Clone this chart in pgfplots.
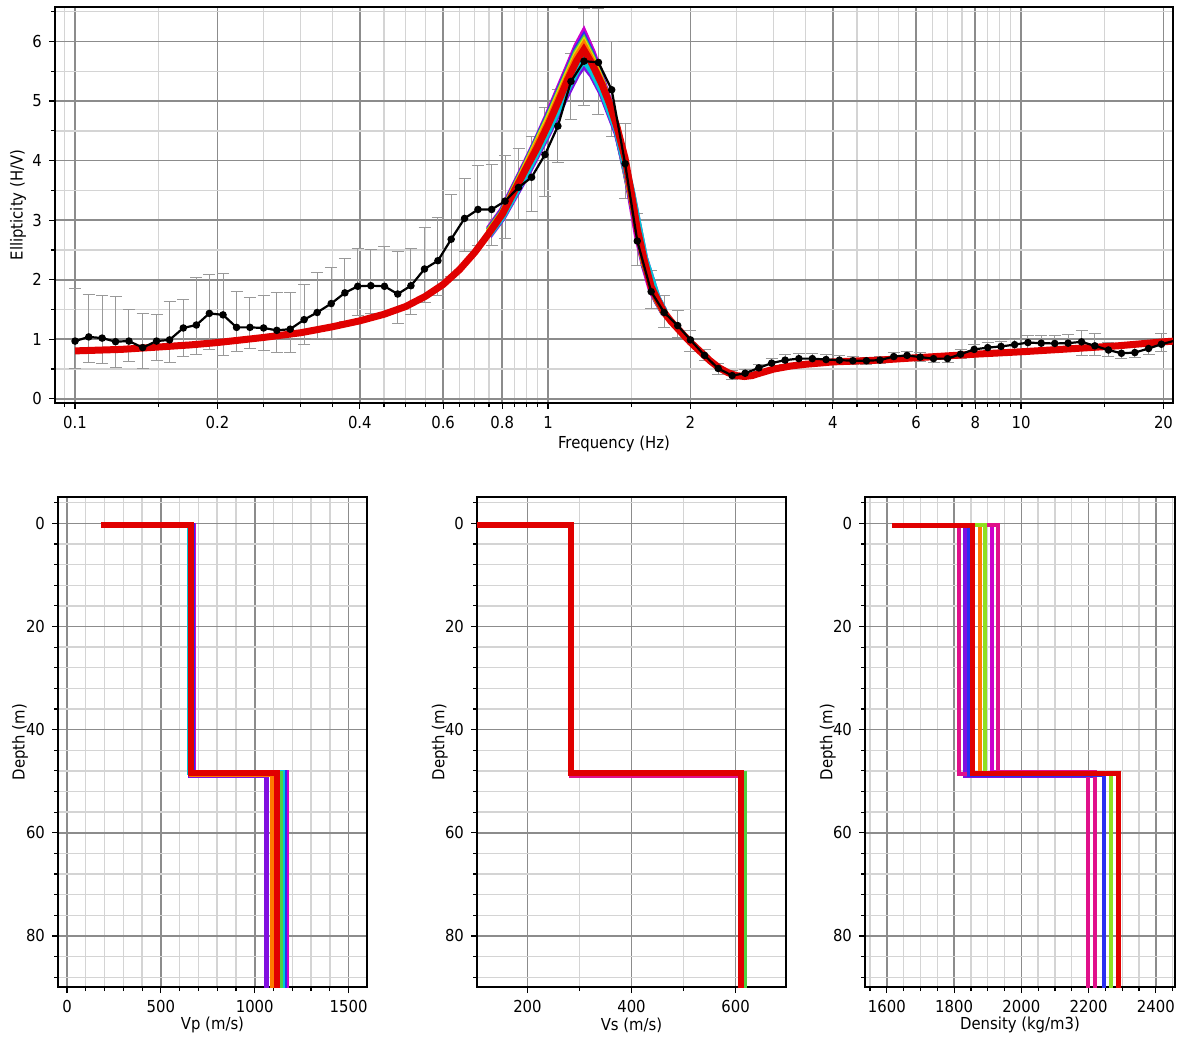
\documentclass[border=0pt]{standalone}
\usepackage{pgfplots}
\pgfplotsset{compat=1.18}
\usepackage{pgfplotstable}
\usepackage{fontspec}
\setmainfont{DejaVu Sans}[FakeStretch=0.9]

\definecolor{cmag}{HTML}{CC00CC}
\definecolor{cblue}{HTML}{2A30F0}
\definecolor{cgreen}{HTML}{50D040}
\definecolor{cyel}{HTML}{E8E000}
\definecolor{corange}{HTML}{FF7A00}
\definecolor{ccyan}{HTML}{00C8D8}
\definecolor{cviolet}{HTML}{8010E0}
\definecolor{cred}{HTML}{E00000}
\definecolor{cpink}{HTML}{E0108A}
\definecolor{cygreen}{HTML}{90E020}

\pgfplotstableread{
f v hi lo
0.1 0.97 1.85 0.51
0.1069 1.04 1.745 0.61
0.1141 1.02 1.73 0.60
0.1218 0.96 1.72 0.53
0.130 0.97 1.50 0.62
0.139 0.86 1.44 0.51
0.1487 0.97 1.41 0.65
0.1584 0.99 1.63 0.61
0.1694 1.19 1.66 0.71
0.1805 1.24 2.04 0.75
0.1923 1.435 2.08 0.83
0.2055 1.41 2.10 0.72
0.2195 1.20 1.80 0.80
0.2343 1.20 1.70 0.85
0.2504 1.19 1.73 0.82
0.267 1.15 1.79 0.77
0.285 1.17 1.79 0.77
0.305 1.33 1.92 0.91
0.325 1.45 2.12 1.01
0.348 1.60 2.20 1.01
0.372 1.78 2.36 1.30
0.396 1.89 2.53 1.40
0.422 1.90 2.50 1.44
0.451 1.89 2.55 1.45
0.481 1.76 2.48 1.27
0.513 1.90 2.53 1.41
0.548 2.18 2.88 1.62
0.585 2.32 3.04 1.73
0.624 2.68 3.43 2.06
0.666 3.03 3.70 2.48
0.711 3.18 3.91 2.58
0.760 3.18 3.93 2.58
0.811 3.32 4.09 2.70
0.866 3.55 4.20 3.00
0.923 3.72 4.40 3.15
0.985 4.10 4.90 3.39
1.049 4.58 5.20 3.97
1.118 5.33 5.80 4.69
1.191 5.67 6.55 4.92
1.278 5.65 6.55 4.78
1.363 5.19 6.00 4.40
1.455 3.95 4.62 3.37
1.544 2.65 3.11 2.24
1.652 1.80 2.16 1.51
1.76 1.45 1.73 1.20
1.88 1.23 1.48 1.03
2.0 0.99 1.14 0.80
2.142 0.73 0.83 0.64
2.289 0.51 0.60 0.41
2.45 0.39 0.47 0.33
2.61 0.43 0.50 0.37
2.79 0.52 0.58 0.46
2.97 0.60 0.68 0.51
3.17 0.65 0.75 0.57
3.39 0.675 0.76 0.60
3.62 0.675 0.76 0.60
3.87 0.66 0.75 0.58
4.13 0.65 0.72 0.59
4.41 0.64 0.71 0.58
4.71 0.64 0.70 0.58
5.03 0.65 0.71 0.59
5.38 0.71 0.78 0.64
5.74 0.73 0.80 0.66
6.12 0.70 0.77 0.63
6.53 0.675 0.74 0.61
6.99 0.675 0.74 0.61
7.45 0.75 0.83 0.68
7.96 0.83 0.92 0.75
8.5 0.86 0.95 0.77
9.07 0.88 0.97 0.79
9.69 0.91 1.00 0.82
10.34 0.945 1.06 0.84
11.03 0.935 1.06 0.83
11.78 0.93 1.06 0.82
12.57 0.935 1.08 0.81
13.42 0.957 1.14 0.73
14.32 0.89 1.09 0.72
15.3 0.82 0.95 0.71
16.3 0.765 0.86 0.68
17.4 0.777 0.88 0.69
18.6 0.845 0.97 0.75
19.8 0.917 1.09 0.79
}\expdata

\pgfplotsset{
  myax/.style={
    scale only axis, anchor=north west,
    axis line style={line width=1.2pt, black},
    tick align=outside, xtick pos=bottom, ytick pos=left,
    major tick length=3pt, minor tick length=2pt,
    tick style={black, line width=0.6pt},
    grid=both,
    major grid style={draw=black!45, line width=0.8pt},
    minor grid style={draw=black!17, line width=0.7pt},
    ticklabel style={font=\fontsize{8.25}{9}\selectfont},
    label style={font=\fontsize{8.25}{9}\selectfont},
    /pgf/number format/assume math mode=true,
    /pgf/number format/1000 sep={},
  },
  prof/.style={line width=2.3pt, mark=none},
  dens/.style={line width=2pt, mark=none},
}

\begin{document}
\begin{tikzpicture}[x=1pt,y=1pt]
\useasboundingbox (0,0) rectangle (591,-521.5);

% ---------------- Top: ellipticity ----------------
\begin{axis}[myax, at={(27.5pt,-3.5pt)}, width=559pt, height=198pt,
  xmode=log, xmin=0.0907, xmax=20.95, ymin=-0.07, ymax=6.58,
  xtick={0.1,0.2,0.4,0.6,0.8,1,2,4,6,8,10,20},
  xticklabels={0.1,0.2,0.4,0.6,0.8,1,2,4,6,8,10,20},
  minor xtick={0.095,0.15,0.25,0.3,0.35,0.45,0.5,0.55,0.65,0.7,0.75,0.85,0.9,0.95,1.5,2.5,3,3.5,4.5,5,5.5,6.5,7,7.5,8.5,9,9.5,15},
  ytick={0,1,2,3,4,5,6},
  minor ytick={0.5,1.5,2.5,3.5,4.5,5.5,6.5},
  xlabel={Frequency (Hz)}, ylabel={Ellipticity (H/V)},
  xlabel style={at={(axis description cs:0.5,-0.1035)}, anchor=center},
  ylabel style={at={(axis description cs:-0.0331,0.5)}, anchor=center},
]
% error bars
\addplot[black!40, line width=0.5pt, only marks, mark=*, mark size=0.1pt, forget plot,
  error bars/.cd, y dir=both, y explicit, error mark=-,
  error bar style={draw=black!40, line width=0.5pt},
  error mark options={draw=black!40, line width=0.5pt, mark size=3pt, rotate=90}]
  table[x=f, y=v, y error plus expr=\thisrow{hi}-\thisrow{v}, y error minus expr=\thisrow{v}-\thisrow{lo}] {\expdata};
% model curves near the peak
\addplot[cmag, line width=3.5pt] coordinates {(0.75,2.85)(0.8,3.16)(0.85,3.58)(0.9,3.98)(0.95,4.37)(1.0,4.77)(1.05,5.17)(1.1,5.55)(1.15,5.92)(1.19,6.14)(1.24,5.82)(1.3,5.36)(1.35,4.95)(1.4,4.48)(1.455,3.92)(1.5,3.33)(1.544,2.75)(1.6,2.22)(1.652,1.84)(1.7,1.64)(1.76,1.43)};
\addplot[cblue, line width=3.5pt] coordinates {(0.75,2.83)(0.8,3.14)(0.9,3.96)(1.0,4.74)(1.1,5.5)(1.15,5.86)(1.19,6.06)(1.24,5.76)(1.3,5.33)(1.4,4.5)(1.5,3.38)(1.6,2.24)(1.7,1.65)(1.76,1.44)};
\addplot[cgreen, line width=3.5pt] coordinates {(0.75,2.82)(0.8,3.12)(0.9,3.94)(1.0,4.71)(1.1,5.47)(1.15,5.82)(1.19,6.01)(1.24,5.72)(1.3,5.31)(1.4,4.52)(1.5,3.41)(1.6,2.26)(1.7,1.66)(1.76,1.44)};
\addplot[cyel, line width=3.5pt] coordinates {(0.75,2.8)(0.8,3.1)(0.9,3.92)(1.0,4.68)(1.1,5.44)(1.15,5.78)(1.19,5.97)(1.24,5.69)(1.3,5.3)(1.4,4.53)(1.5,3.43)(1.6,2.28)(1.7,1.67)(1.76,1.45)};
\addplot[corange, line width=3.5pt] coordinates {(0.75,2.79)(0.8,3.1)(0.9,3.9)(1.0,4.64)(1.1,5.4)(1.15,5.74)(1.19,5.93)(1.24,5.66)(1.3,5.29)(1.4,4.54)(1.5,3.44)(1.6,2.29)(1.7,1.67)(1.76,1.45)};
\addplot[cviolet, line width=3.5pt] coordinates {(0.75,2.74)(0.8,3.04)(0.9,3.76)(1.0,4.46)(1.1,5.15)(1.15,5.45)(1.19,5.62)(1.24,5.44)(1.3,5.13)(1.4,4.46)(1.5,3.48)(1.6,2.36)(1.7,1.7)(1.76,1.47)};
\addplot[ccyan, line width=3.5pt] coordinates {(0.75,2.76)(0.8,3.06)(0.9,3.8)(1.0,4.5)(1.1,5.22)(1.15,5.52)(1.19,5.7)(1.24,5.5)(1.3,5.18)(1.4,4.5)(1.5,3.5)(1.6,2.36)(1.7,1.7)(1.76,1.47)};
% main red model curve
\addplot[cred, line width=3.5pt] coordinates {
(0.1,0.805)(0.125,0.83)(0.15,0.87)(0.175,0.905)(0.2,0.945)(0.25,1.03)(0.3,1.11)(0.35,1.21)(0.4,1.31)(0.45,1.42)(0.5,1.55)(0.55,1.72)(0.6,1.92)(0.65,2.17)(0.7,2.46)(0.75,2.78)(0.8,3.1)(0.85,3.5)(0.9,3.88)(0.95,4.23)(1.0,4.6)(1.05,4.98)(1.1,5.36)(1.15,5.68)(1.19,5.86)(1.24,5.62)(1.3,5.28)(1.35,4.95)(1.4,4.55)(1.455,4.04)(1.5,3.45)(1.544,2.85)(1.6,2.3)(1.652,1.88)(1.7,1.68)(1.76,1.45)(1.82,1.3)(1.88,1.18)(1.94,1.06)(2.0,0.95)(2.1,0.79)(2.2,0.64)(2.3,0.52)(2.4,0.44)(2.5,0.39)(2.6,0.375)(2.7,0.39)(2.8,0.43)(3.0,0.5)(3.25,0.55)(3.5,0.58)(4.0,0.62)(5.0,0.65)(6.0,0.69)(8.0,0.75)(10,0.79)(13,0.845)(16,0.89)(20,0.957)(21.5,0.975)};
% measured curve
\addplot[black, line width=1.1pt, mark=*, mark size=1.3pt, mark options={fill=black}] table[x=f, y=v] {\expdata};
\addplot[black, line width=1.1pt, mark=none] coordinates {(19.8,0.917)(21.2,0.98)};
\end{axis}

% ---------------- Vp ----------------
\begin{axis}[myax, at={(29pt,-248.5pt)}, width=154.5pt, height=245pt,
  xmin=-48, xmax=1598, ymin=-5.1, ymax=89.9, y dir=reverse,
  xtick={0,500,1000,1500},
  minor xtick={100,200,300,400,600,700,800,900,1100,1200,1300,1400},
  ytick={0,20,40,60,80},
  minor ytick={-4,4,8,12,16,24,28,32,36,44,48,52,56,64,68,72,76,84,88},
  xlabel={Vp (m/s)}, ylabel={Depth (m)},
  xlabel style={at={(axis description cs:0.5,-0.0776)}, anchor=center},
  ylabel style={at={(axis description cs:-0.123,0.5)}, anchor=center},
]
\addplot[prof, cmag] coordinates {(199,0.4)(676,0.4)(676,48.2)(1172,48.2)(1172,95)};
\addplot[prof, cblue] coordinates {(199,0.4)(668,0.4)(668,48.3)(1158,48.3)(1158,95)};
\addplot[prof, ccyan] coordinates {(199,0.4)(652,0.4)(652,48.3)(1148,48.3)(1148,95)};
\addplot[prof, cgreen] coordinates {(199,0.4)(660,0.4)(660,48.4)(1136,48.4)(1136,95)};
\addplot[prof, cviolet] coordinates {(199,0.4)(656,0.4)(656,48.9)(1062,48.9)(1062,95)};
\addplot[prof, corange] coordinates {(199,0.4)(664,0.4)(664,48.7)(1095,48.7)(1095,95)};
\addplot[cred, line width=3pt] coordinates {(199,-0.2)(199,0.4)(662,0.4)(662,48.5)(1118,48.5)(1118,95)};
\end{axis}

% ---------------- Vs ----------------
\begin{axis}[myax, at={(238.5pt,-248.5pt)}, width=154.5pt, height=245pt,
  xmin=103, xmax=697, ymin=-5.1, ymax=89.9, y dir=reverse,
  xtick={200,400,600},
  minor xtick={300,500},
  ytick={0,20,40,60,80},
  minor ytick={-4,4,8,12,16,24,28,32,36,44,48,52,56,64,68,72,76,84,88},
  xlabel={Vs (m/s)}, ylabel={Depth (m)},
  xlabel style={at={(axis description cs:0.5,-0.0776)}, anchor=center},
  ylabel style={at={(axis description cs:-0.12,0.5)}, anchor=center},
]
\addplot[prof, cgreen] coordinates {(90,0.4)(284,0.4)(284,48.5)(618,48.5)(618,95)};
\addplot[prof, cpink] coordinates {(90,0.4)(284,0.4)(284,48.9)(612,48.9)(612,95)};
\addplot[cred, line width=3pt] coordinates {(90,0.4)(284,0.4)(284,48.5)(610,48.5)(610,95)};
\end{axis}

% ---------------- Density ----------------
\begin{axis}[myax, at={(432.5pt,-248.5pt)}, width=155pt, height=245pt,
  xmin=1535, xmax=2457, ymin=-5.1, ymax=89.9, y dir=reverse,
  xtick={1600,1800,2000,2200,2400},
  minor xtick={1550,1650,1700,1750,1850,1900,1950,2050,2100,2150,2250,2300,2350,2450},
  ytick={0,20,40,60,80},
  minor ytick={-4,4,8,12,16,24,28,32,36,44,48,52,56,64,68,72,76,84,88},
  xlabel={Density (kg/m3)}, ylabel={Depth (m)},
  xlabel style={at={(axis description cs:0.5,-0.0776)}, anchor=center},
  ylabel style={at={(axis description cs:-0.12,0.5)}, anchor=center},
]
\addplot[dens, cviolet] coordinates {(1625,0.4)(1832,0.4)(1832,49.0)(2220,49.0)(2220,95)};
\addplot[dens, cmag] coordinates {(1665,0.4)(1912,0.4)(1912,48.3)(2199,48.3)(2199,95)};
\addplot[dens, corange] coordinates {(1655,0.4)(1877,0.4)(1877,48.4)(2289,48.4)(2289,95)};
\addplot[dens, cpink] coordinates {(1680,0.4)(1932,0.4)(1932,48.2)(2220,48.2)(2220,95)};
\addplot[dens, cpink] coordinates {(1620,0.4)(1814,0.4)(1814,48.6)(2199,48.6)(2199,95)};
\addplot[dens, cblue] coordinates {(1645,0.4)(1845,0.4)(1845,48.8)(2245,48.8)(2245,95)};
\addplot[dens, cygreen] coordinates {(1635,0.4)(1892,0.4)(1892,48.4)(2267,48.4)(2267,95)};
\addplot[cred, line width=2.5pt] coordinates {(1615,0.4)(1855,0.4)(1855,48.5)(2289,48.5)(2289,95)};
\end{axis}
\end{tikzpicture}
\end{document}
